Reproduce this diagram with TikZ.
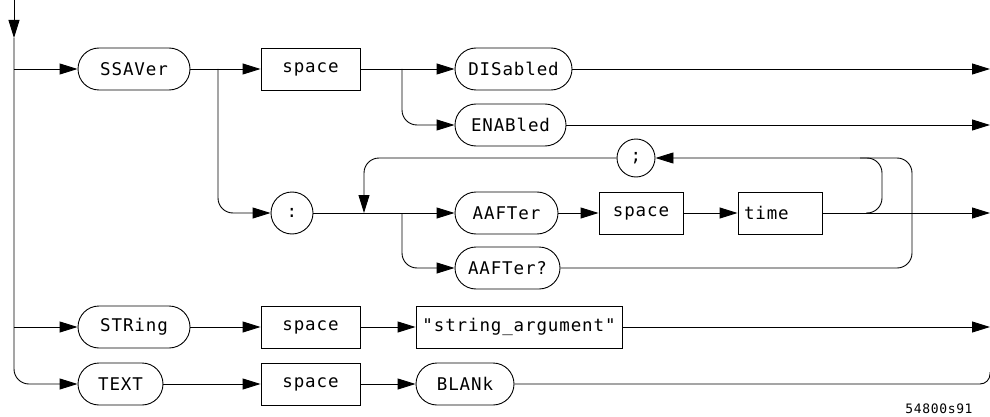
\documentclass[tikz,border=0pt]{standalone}
\usepackage{fontspec}
\setmonofont{DejaVu Sans Mono}[LetterSpace=5]
\usetikzlibrary{arrows.meta}

\begin{document}
\begin{tikzpicture}[x=1pt, y=-1pt, line width=0.9pt,
        every node/.style={font=\ttfamily\fontsize{17.5}{20}\selectfont, inner sep=0pt},
        kw/.style={draw, rounded corners=21pt, minimum height=42pt},
        box/.style={draw, minimum height=42pt},
        sym/.style={draw, circle, minimum size=#1},
        arr/.style={-{Triangle[length=18pt,width=11pt]}},
        rnd/.style={rounded corners=15pt}]
            \useasboundingbox (0,0) rectangle (990,417);

            \node[kw, minimum width=112pt] (ssaver) at (134,69) {SSAVer};
            \node[box, minimum width=99pt] (space1) at (310.5,69) {space};
            \node[kw, minimum width=117pt] (dis) at (513.5,69) {DISabled};
            \node[kw, minimum width=111pt] (ena) at (510.5,125) {ENABled};
            \node[sym=42pt] (colon) at (292,213) {:};
            \node[sym=38pt] (semi) at (636,158) {;};
            \node[kw, minimum width=103pt] (aafter) at (506.5,213) {AAFTer};
            \node[box, minimum width=84pt] (space2) at (641,213) {space};
            \node[box, minimum width=84pt, text width=72pt, align=left] (time) at (780,213) {time};
            \node[kw, minimum width=105pt] (aafterq) at (507.5,268) {AAFTer?};
            \node[kw, minimum width=112pt] (string) at (134,327) {STRing};
            \node[box, minimum width=99pt] (space3) at (310.5,327) {space};
            \node[box, minimum width=206pt] (strarg) at (519,327) {"string\_argument"};
            \node[kw, minimum width=85pt] (textn) at (120.5,384) {TEXT};
            \node[box, minimum width=99pt] (space4) at (310.5,384) {space};
            \node[kw, minimum width=98pt] (blank) at (465,384) {BLANk};
            \node[font=\ttfamily\fontsize{13}{15}\selectfont] (fig) at (939,409) {54800s91};

            \coordinate (top) at (14,0);
            \coordinate (topin) at (14,38);
            \coordinate (b1) at (14,69);
            \coordinate (b2) at (14,327);
            \coordinate (s1) at (218,69);
            \coordinate (s2) at (402,69);
            \coordinate (j1) at (364,213);
            \coordinate (j2) at (402,213);
            \coordinate (k1) at (866,213);
            \coordinate (e1) at (990,69);
            \coordinate (e2) at (990,125);
            \coordinate (e3) at (990,213);
            \coordinate (e4) at (990,327);
            \coordinate (e5) at (990,372);

            \draw[arr] (top) -- (topin);
            \draw[arr, rnd] (topin) |- (textn);
            \draw[arr] (b1) -- (ssaver);
            \draw[arr] (b2) -- (string);

            \draw[arr] (ssaver) -- (space1);
            \draw[arr, rnd] (s1) |- (colon);
            \draw[arr] (space1) -- (dis);
            \draw[arr, rnd] (s2) |- (ena);
            \draw[arr] (dis) -- (e1);
            \draw[arr] (ena) -- (e2);

            \draw[arr] (colon) -- (aafter);
            \draw[arr, rnd] (j2) |- (aafterq);
            \draw[arr] (aafter) -- (space2);
            \draw[arr] (space2) -- (time);
            \draw[arr] (time) -- (e3);
            \draw[rnd] (k1) -| (882,158) -- (860,158);
            \draw[arr, rnd] (aafterq) -| (912,158) -- (semi);
            \draw[arr, rnd] (semi) -| (j1);

            \draw[arr] (string) -- (space3);
            \draw[arr] (space3) -- (strarg);
            \draw[arr] (strarg) -- (e4);

            \draw[arr] (textn) -- (space4);
            \draw[arr] (space4) -- (blank);
            \draw[rounded corners=10pt] (blank) -| (e5);
        \end{tikzpicture}
\end{document}
